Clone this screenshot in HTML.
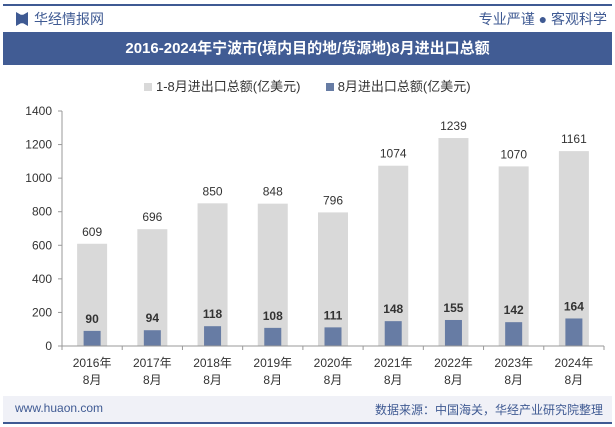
<!DOCTYPE html>
<html><head><meta charset="utf-8"><style>
body{margin:0;width:615px;height:427px;background:#fff;font-family:"Liberation Sans","Noto Sans CJK SC",sans-serif;overflow:hidden;position:relative}
.abs{position:absolute}
</style></head><body>
<div class="abs" style="left:3px;top:4px;width:609px;height:2px;background:#3f5a93"></div>
<div class="abs" style="left:16px;top:12px;width:12px;height:14px;background:#3f5a93;clip-path:polygon(0 0,40% 20%,60% 20%,100% 0,100% 100%,60% 80%,40% 80%,0 100%)"></div>
<div class="abs" style="left:34px;top:9px;font-size:14px;color:#3f5a93">华经情报网</div>
<div class="abs" style="right:8px;top:9px;font-size:14px;color:#3f5a93">专业严谨 ● 客观科学</div>
<div class="abs" style="left:3px;top:32px;width:609px;height:33px;background:#415c94;color:#fff;font-size:15px;font-weight:bold;text-align:center;line-height:33px">2016-2024年宁波市(境内目的地/货源地)8月进出口总额</div>
<div class="abs" style="left:0;top:76px;width:615px;text-align:center;font-size:13px;color:#333">
<span><span style="display:inline-block;width:8px;height:8px;background:#d9d9d9"></span> 1-8月进出口总额(亿美元)</span>
<span style="margin-left:22px"><span style="display:inline-block;width:8px;height:8px;background:#677ca4"></span> 8月进出口总额(亿美元)</span>
</div>
<svg class="abs" style="left:0;top:0" width="615" height="427" id="chart"></svg>
<div class="abs" style="left:3px;top:396px;width:609px;height:26px;background:#f0f1f7"></div>
<div class="abs" style="left:3px;top:422px;width:609px;height:2px;background:#3f5a93"></div>
<div class="abs" style="left:15px;top:401px;font-size:12px;color:#3f5a93">www.huaon.com</div>
<div class="abs" style="right:12px;top:401px;font-size:12px;color:#3f5a93">数据来源：中国海关，华经产业研究院整理</div>
<script>
const categories=["2016年","2017年","2018年","2019年","2020年","2021年","2022年","2023年","2024年"];
const ytdValues=[609,696,850,848,796,1074,1239,1070,1161];
const augValues=[90,94,118,108,111,148,155,142,164];
const yTicks=[0,200,400,600,800,1000,1200,1400];
const svg=document.getElementById('chart');
const NS='http://www.w3.org/2000/svg';
const x0=62,x1=604,y0=346,yTop=111,yMax=1400;
const band=(x1-x0)/categories.length;
const y=v=>y0-(v/yMax)*(y0-yTop);
const xc=i=>x0+band*(i+0.5);
function mk(t,a,txt){const e=document.createElementNS(NS,t);for(const k in a)e.setAttribute(k,a[k]);if(txt!==undefined)e.textContent=txt;svg.appendChild(e);return e;}
yTicks.forEach(t=>{
 const e=mk('text',{x:52,y:y(t)+4,'text-anchor':'end','font-size':12,fill:'#333'},t);
 
 
 const k=mk('line',{x1:58,x2:62,y1:y(t),y2:y(t),stroke:'#999'});
 
 
});
const ax=mk('line',{x1:62,x2:62,y1:yTop,y2:y0,stroke:'#999'});


categories.forEach((c,i)=>{
 const cx=xc(i);
 const g=mk('rect',{x:cx-15,y:y(ytdValues[i]),width:30,height:y0-y(ytdValues[i]),fill:'#d9d9d9'});
 
 
 const b=mk('rect',{x:cx-8.5,y:y(augValues[i]),width:17,height:y0-y(augValues[i]),fill:'#677ca4'});
 
 
 const l1=mk('text',{x:cx,y:y(ytdValues[i])-8,'text-anchor':'middle','font-size':12,fill:'#333'},ytdValues[i]);
 
 
 const l2=mk('text',{x:cx,y:y(augValues[i])-8,'text-anchor':'middle','font-size':12,'font-weight':'bold',fill:'#333'},augValues[i]);
 
 
 const t1=mk('text',{x:cx,y:367,'text-anchor':'middle','font-size':12,fill:'#333'},c);
 
 
 const t2=mk('text',{x:cx,y:384,'text-anchor':'middle','font-size':12,fill:'#333'},'8月');
 
 
 const tk=mk('line',{x1:x0+band*i,x2:x0+band*i,y1:y0,y2:y0+4,stroke:'#999'});
 
 
});
const tk=mk('line',{x1:x1,x2:x1,y1:y0,y2:y0+4,stroke:'#999'});


const xa=mk('line',{x1:x0,x2:x1,y1:y0,y2:y0,stroke:'#999'});


</script>
</body></html>
